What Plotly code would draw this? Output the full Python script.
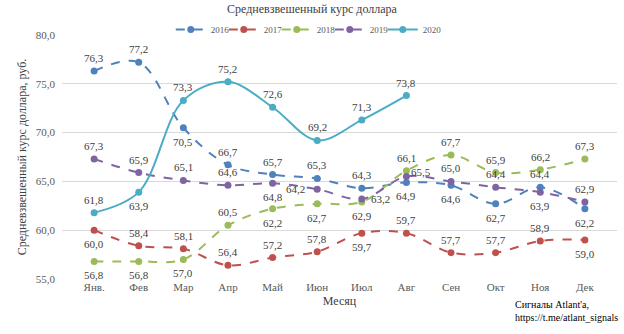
import plotly.graph_objects as go

months = ["Янв.", "Фев", "Мар", "Апр", "Май", "Июн", "Июл", "Авг", "Сен", "Окт", "Ноя", "Дек"]

rate_2016 = [76.3, 77.2, 70.5, 66.7, 65.7, 65.3, 64.3, 64.9, 64.6, 62.7, 64.4, 62.2]
rate_2017 = [60.0, 58.4, 58.1, 56.4, 57.2, 57.8, 59.7, 59.7, 57.7, 57.7, 58.9, 59.0]
rate_2018 = [56.8, 56.8, 57.0, 60.5, 62.2, 62.7, 62.9, 66.1, 67.7, 65.9, 66.2, 67.3]
rate_2019 = [67.3, 65.9, 65.1, 64.6, 64.8, 64.2, 63.2, 65.5, 65.0, 64.4, 63.9, 62.9]
rate_2020 = [61.8, 63.9, 73.3, 75.2, 72.6, 69.2, 71.3, 73.8]

# label placement relative to each marker: T above, B below, L left, R right, RU right-up
T, B, L, R, RU = "T", "B", "L", "R", "RU"
pos_2016 = [T, T, B, T, T, T, T, B, B, B, T, B]
pos_2017 = [B, T, T, T, T, T, B, T, T, T, T, B]
pos_2018 = [B, B, B, T, B, B, B, T, T, T, T, T]
pos_2019 = [T, T, T, T, B, L, R, RU, T, T, B, T]
pos_2020 = [T, B, T, T, T, T, T, T]

SHIFTS = {T: (0, 13), B: (0, -14), L: (-22, 0), R: (19, 0), RU: (15, 5)}

series = [
    ("2016", rate_2016, pos_2016, "#4F81BD", "dash"),
    ("2017", rate_2017, pos_2017, "#C0504D", "dash"),
    ("2018", rate_2018, pos_2018, "#9BBB59", "dash"),
    ("2019", rate_2019, pos_2019, "#8064A2", "dash"),
    ("2020", rate_2020, pos_2020, "#4BACC6", "solid"),
]

FONT = "Liberation Serif"
fig = go.Figure()
labels = []
for i, (name, vals, pos, color, dash) in enumerate(series):
    x = months[:len(vals)]
    fig.add_trace(go.Scatter(
        x=x, y=vals, name=name, mode="lines+markers",
        line=dict(color=color, width=2, dash=dash, shape="spline", smoothing=1.0),
        marker=dict(color=color, size=7),
        legendwidth=8 if i < len(series) - 1 else 24,
    ))
    for m, v, p in zip(x, vals, pos):
        dx, dy = SHIFTS[p]
        labels.append(dict(
            x=m, y=v, xref="x", yref="y", text=f"{v:.1f}".replace(".", ","),
            showarrow=False, xshift=dx, yshift=dy,
            font=dict(family=FONT, size=11, color="#404040"),
        ))

labels.append(dict(text="Сигналы Atlant'a,<br>https://t.me/atlant_signals",
                   xref="paper", yref="paper", x=0.813, y=-0.075, xanchor="left", yanchor="top",
                   align="left", showarrow=False,
                   font=dict(family=FONT, size=10, color="#000000")))

fig.update_layout(
    width=624, height=334,
    margin=dict(l=62, r=7, t=35, b=55),
    paper_bgcolor="white", plot_bgcolor="white",
    separators=", ",
    font=dict(family=FONT, size=11, color="#595959"),
    title=dict(text="Средневзвешенный курс доллара", x=0.5, xanchor="center",
               y=0.985, yanchor="top", font=dict(family=FONT, size=12, color="#404040")),
    legend=dict(orientation="h", x=0.196, xanchor="left", y=1.023, yanchor="middle",
                font=dict(family=FONT, size=9, color="#595959"),
                itemwidth=30, tracegroupgap=0),
    xaxis=dict(showgrid=False, showline=False, ticks="", zeroline=False,
               tickfont=dict(family=FONT, size=11, color="#595959"),
               title=dict(text="Месяц", font=dict(family=FONT, size=12, color="#404040"), standoff=4)),
    yaxis=dict(range=[55, 80], dtick=5, tickformat=".1f", showgrid=True, gridcolor="#D9D9D9",
               gridwidth=1, zeroline=False, showline=False, ticks="", ticklabelstandoff=6,
               tickfont=dict(family=FONT, size=11, color="#595959"),
               title=dict(text="Средневзвешенный курс доллара, руб.",
                          font=dict(family=FONT, size=12, color="#404040"), standoff=6)),
    annotations=labels,
)

fig.write_html("out.html")
